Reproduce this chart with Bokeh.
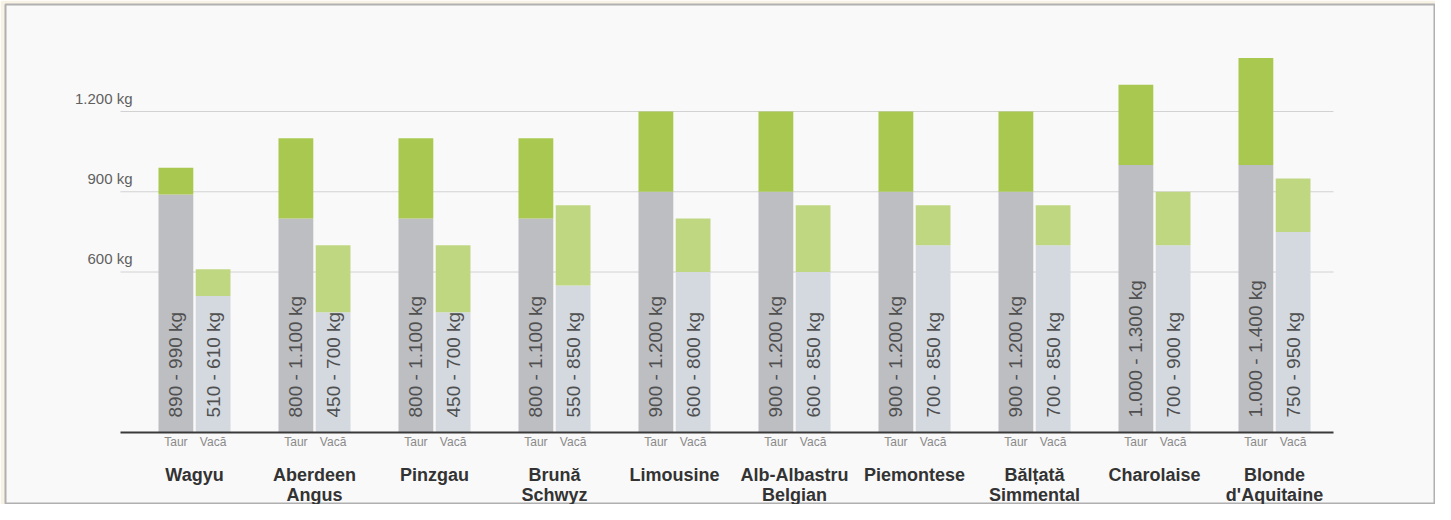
import math
from bokeh.plotting import figure
from bokeh.models import Range1d, ColumnDataSource
from bokeh.core.properties import value
from bokeh.embed import file_html
from bokeh.resources import INLINE

# ---- data ----
breeds = ["Wagyu", "Aberdeen\nAngus", "Pinzgau", "Brună\nSchwyz", "Limousine",
          "Alb-Albastru\nBelgian", "Piemontese", "Bălțată\nSimmental", "Charolaise",
          "Blonde\nd'Aquitaine"]
taur_min = [890, 800, 800, 800, 900, 900, 900, 900, 1000, 1000]
taur_max = [990, 1100, 1100, 1100, 1200, 1200, 1200, 1200, 1300, 1400]
vaca_min = [510, 450, 450, 550, 600, 600, 700, 700, 700, 750]
vaca_max = [610, 700, 700, 850, 800, 850, 850, 850, 900, 950]
sex_labels = ["Taur", "Vacă"]
y_ticks = [600, 900, 1200]
y_tick_labels = ["600 kg", "900 kg", "1.200 kg"]

# ---- styles ----
FONT = "Liberation Sans"
C_TAUR_BASE = "#bdbec2"
C_TAUR_TOP = "#a8c850"
C_VACA_BASE = "#d3d9df"
C_VACA_TOP = "#c0d782"
BG = "#f9f9f9"

W, H = 1435, 504
ML, MT = 5, 4
p = figure(width=W, height=H, output_backend="svg", toolbar_location=None,
           x_range=Range1d((ML - 194) / 120.0, (W - 194) / 120.0),
           y_range=Range1d((432 - H) / 0.2675, (432 - MT) / 0.2675),
           x_axis_location=None, y_axis_location=None,
           min_border=0, min_border_left=ML, min_border_top=MT,
           background_fill_color=BG, border_fill_color="#f7f2e3")
p.xgrid.visible = False
p.ygrid.visible = False
p.outline_line_color = "#b0b0b0"
p.outline_line_width = 2

def fmt(v):
    return f"{v:,}".replace(",", ".")

n = len(breeds)
idx = list(range(n))
off = 0.155
bw = 0.29
xt = [i - off for i in idx]
xv = [i + off for i in idx]

x_left, x_right = -0.6167, 9.4917

# gridlines
for t in y_ticks:
    p.segment(x0=[x_left], y0=[t], x1=[x_right], y1=[t], line_color="#d2d2d2", line_width=1)

src = ColumnDataSource(dict(xt=xt, xv=xv, tmin=taur_min, tmax=taur_max,
                            vmin=vaca_min, vmax=vaca_max, zero=[0] * n,
                            tlab=[f"{fmt(a)} - {fmt(b)} kg" for a, b in zip(taur_min, taur_max)],
                            vlab=[f"{fmt(a)} - {fmt(b)} kg" for a, b in zip(vaca_min, vaca_max)]))

p.vbar(x="xt", width=bw, bottom="zero", top="tmin", source=src, fill_color=C_TAUR_BASE, line_color=None)
p.vbar(x="xt", width=bw, bottom="tmin", top="tmax", source=src, fill_color=C_TAUR_TOP, line_color=None)
p.vbar(x="xv", width=bw, bottom="zero", top="vmin", source=src, fill_color=C_VACA_BASE, line_color=None)
p.vbar(x="xv", width=bw, bottom="vmin", top="vmax", source=src, fill_color=C_VACA_TOP, line_color=None)

# baseline
p.segment(x0=[x_left], y0=[0], x1=[x_right], y1=[0], line_color="#3a3a3a", line_width=2)

# rotated range labels
for col, xc in (("tlab", "xt"), ("vlab", "xv")):
    p.text(x=xc, y="zero", text=col, source=src, angle=math.pi / 2, y_offset=-15,
           text_align="left", text_baseline="middle", text_font=value(FONT),
           text_font_size="19px", text_color="#505050")

# y tick labels
p.text(x=[-0.5167] * len(y_ticks), y=y_ticks, text=y_tick_labels, y_offset=-5,
       text_align="right", text_baseline="bottom", text_font=value(FONT),
       text_font_size="15px", text_color="#606060")

# Taur / Vacă sub-labels
p.text(x=xt, y=[0] * n, text=[sex_labels[0]] * n, y_offset=9, text_align="center",
       text_baseline="middle", text_font=value(FONT), text_font_size="12px", text_color="#8a8a8a")
p.text(x=xv, y=[0] * n, text=[sex_labels[1]] * n, y_offset=9, text_align="center",
       text_baseline="middle", text_font=value(FONT), text_font_size="12px", text_color="#8a8a8a")

# breed names (two lines)
line1 = [b.split("\n")[0] for b in breeds]
line2 = [b.split("\n")[1] if "\n" in b else "" for b in breeds]
p.text(x=idx, y=[0] * n, text=line1, y_offset=42, text_align="center", text_baseline="middle",
       text_font=value(FONT), text_font_style="bold", text_font_size="18px", text_color="#333333")
p.text(x=idx, y=[0] * n, text=line2, y_offset=62, text_align="center", text_baseline="middle",
       text_font=value(FONT), text_font_style="bold", text_font_size="18px", text_color="#333333")

open("out.html", "w").write(file_html(p, INLINE))
